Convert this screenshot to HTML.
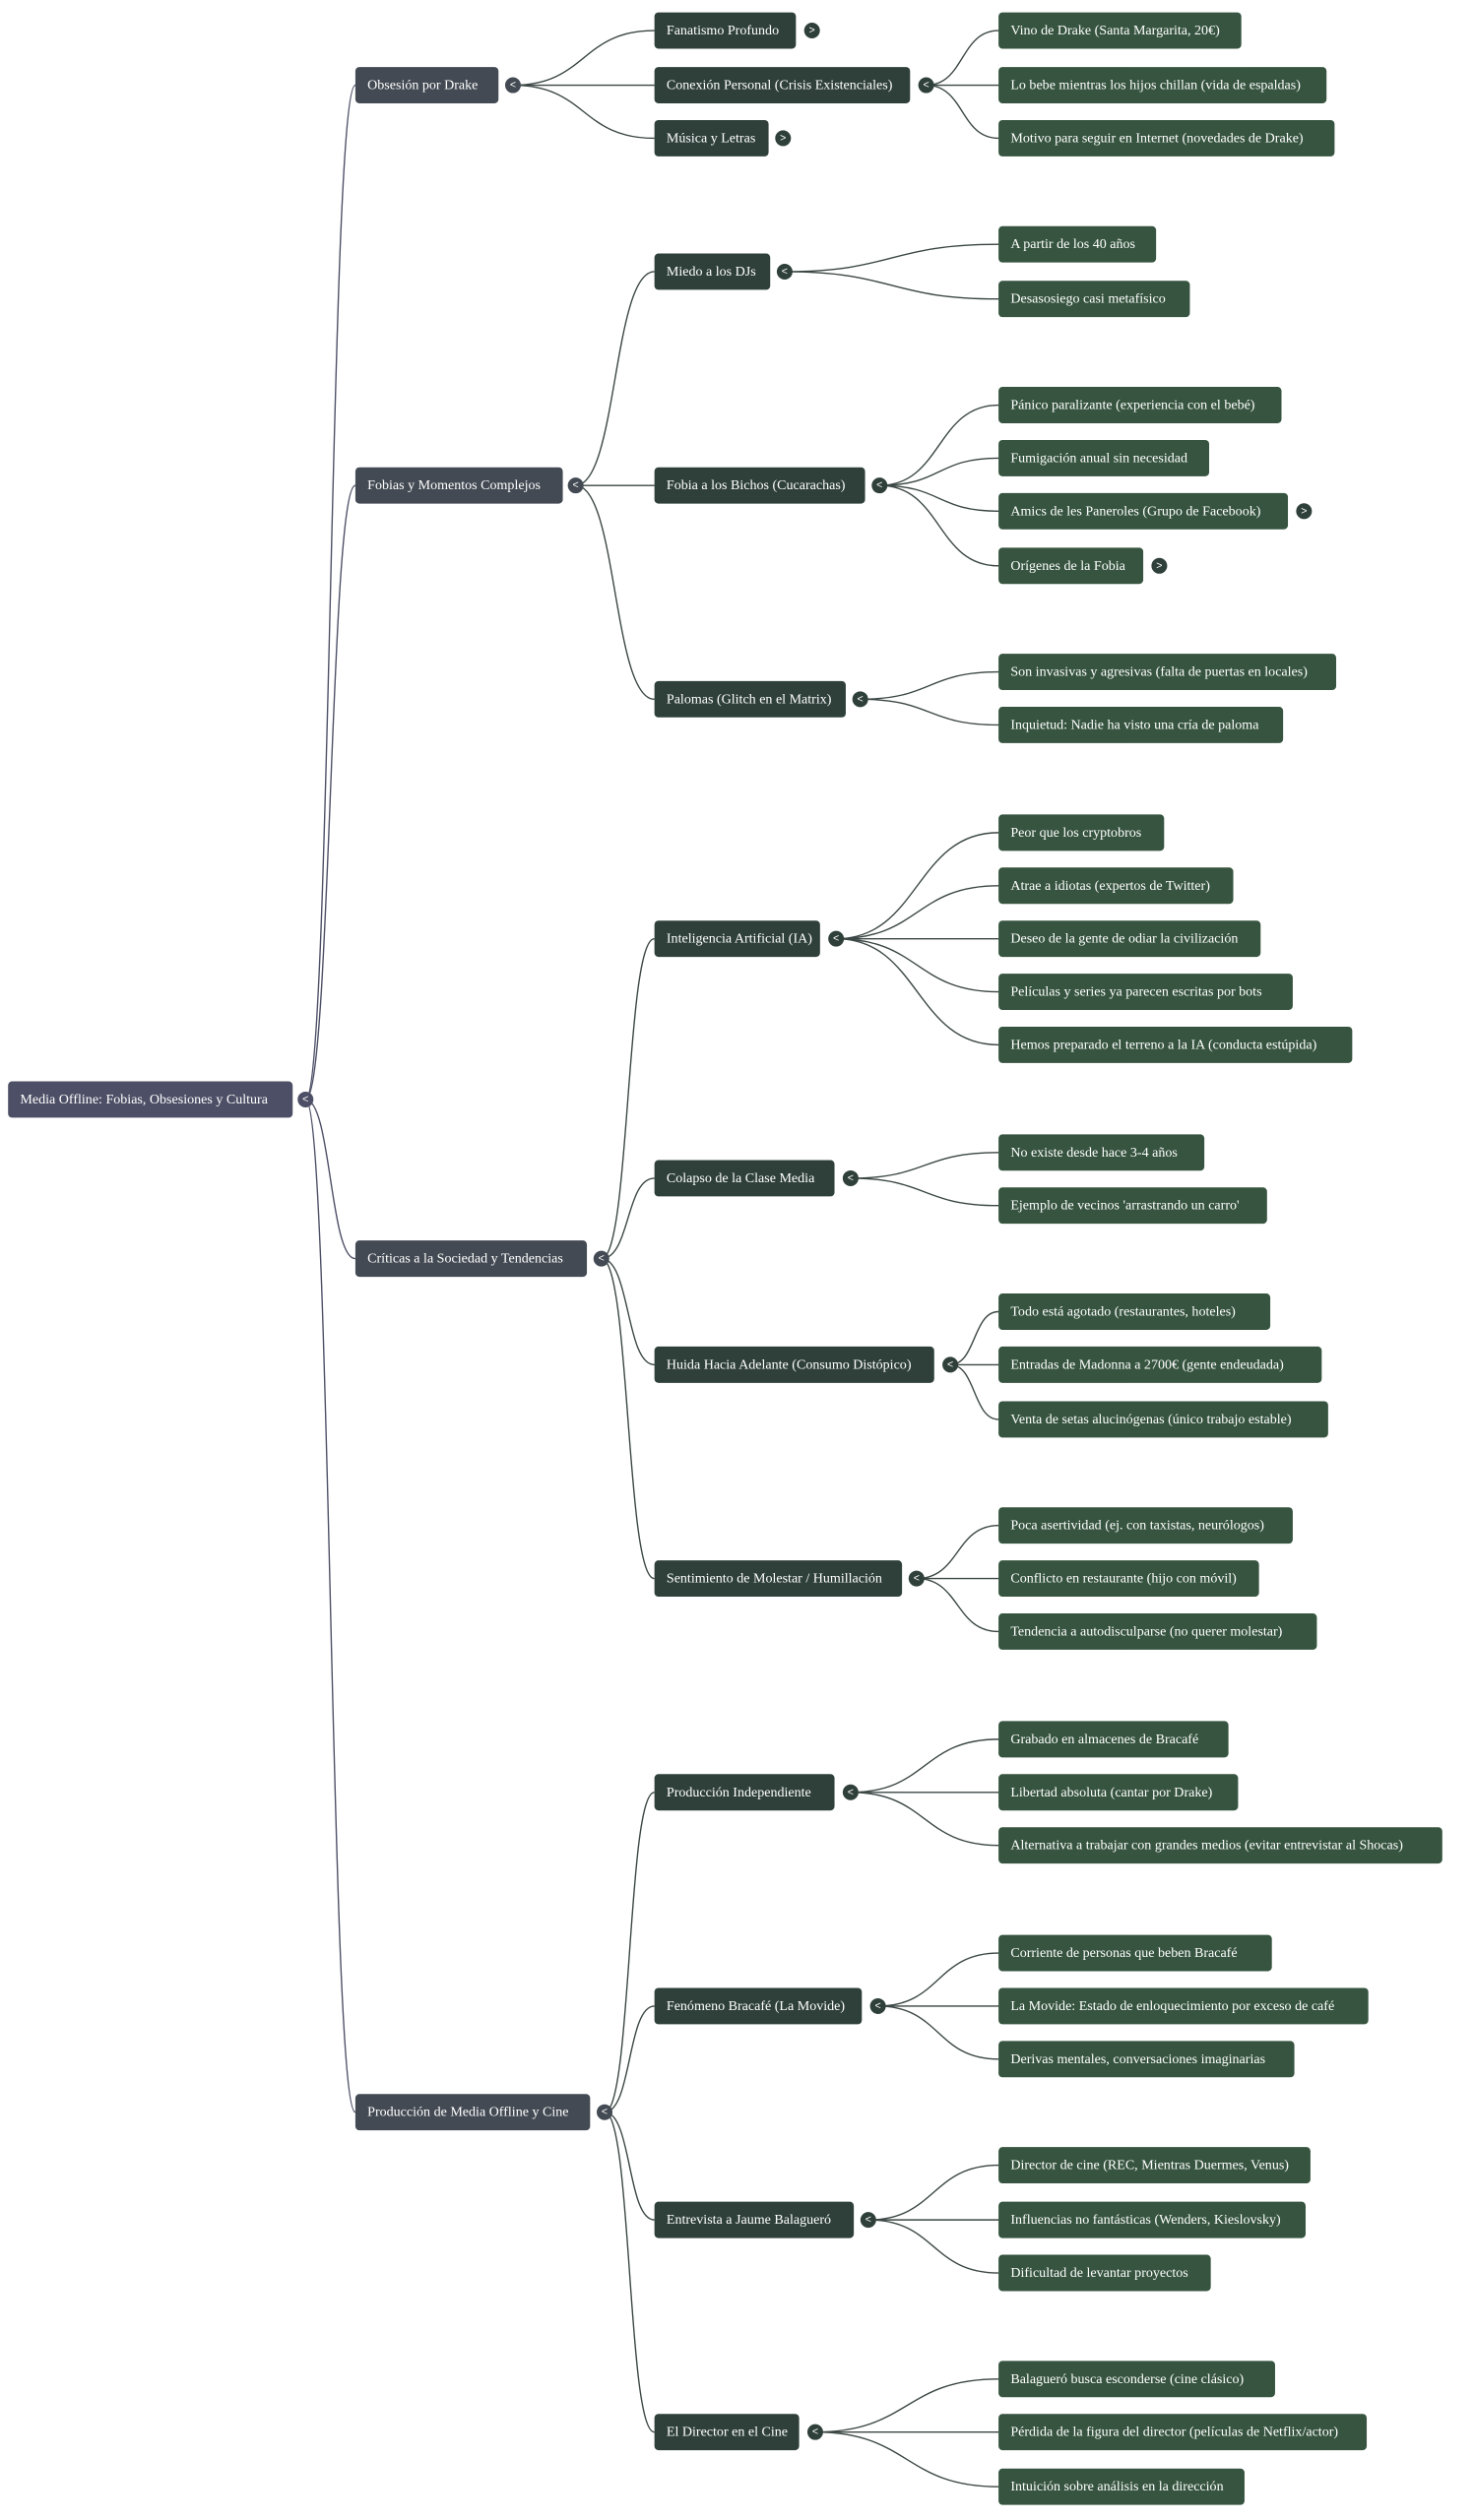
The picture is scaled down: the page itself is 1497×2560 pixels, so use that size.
<!DOCTYPE html>
<html><head><meta charset="utf-8"><style>
html,body{margin:0;padding:0;background:#fff;}
svg{display:block}
text{font-family:"Liberation Serif",serif;font-size:8.6px;fill:#fff;dominant-baseline:central}
.r{fill:#4d4f66}.a{fill:#434a53}.b{fill:#2f403b}.c{fill:#36543f}
.t text{font-size:6.5px;text-anchor:middle;font-family:"Liberation Sans",sans-serif}
path{fill:none;stroke:#3b4744;stroke-width:0.85}
path.p{stroke:#4d4f66}
</style></head><body>
<svg width="1497" height="2560" viewBox="0 0 916.7 1567.7" xmlns="http://www.w3.org/2000/svg">
<!-- connectors root -->
<path class="p" d="M190,684 C206,684 205,53 221,53"/>
<path class="p" d="M190,684 C206,684 205,302 221,302"/>
<path class="p" d="M190,684 C206,684 205,783 221,783"/>
<path class="p" d="M190,684 C206,684 205,1314 221,1314"/>
<!-- L1 -> L2 -->
<path d="M319,53 C365,53 361,19 407,19"/>
<path d="M319,53 C365,53 361,53 407,53"/>
<path d="M319,53 C365,53 361,86 407,86"/>
<path d="M358,302 C384,302 381,169 407,169"/>
<path d="M358,302 C384,302 381,302 407,302"/>
<path d="M358,302 C384,302 381,435 407,435"/>
<path d="M374,783 C392,783 389,584 407,584"/>
<path d="M374,783 C392,783 389,733 407,733"/>
<path d="M374,783 C392,783 389,849 407,849"/>
<path d="M374,783 C392,783 389,982 407,982"/>
<path d="M376,1314 C393,1314 390,1115 407,1115"/>
<path d="M376,1314 C393,1314 390,1248 407,1248"/>
<path d="M376,1314 C393,1314 390,1381 407,1381"/>
<path d="M376,1314 C393,1314 390,1513 407,1513"/>
<!-- L2 -> leaves -->
<path d="M576,53 C600,53 597,19 621,19"/>
<path d="M576,53 C600,53 597,53 621,53"/>
<path d="M576,53 C600,53 597,86 621,86"/>
<path d="M488,169 C556,169 553,152 621,152"/>
<path d="M488,169 C556,169 553,186 621,186"/>
<path d="M547,302 C586,302 582,252 621,252"/>
<path d="M547,302 C586,302 582,285 621,285"/>
<path d="M547,302 C586,302 582,318 621,318"/>
<path d="M547,302 C586,302 582,352 621,352"/>
<path d="M535,435 C580,435 576,418 621,418"/>
<path d="M535,435 C580,435 576,451 621,451"/>
<path d="M520,584 C572,584 569,518 621,518"/>
<path d="M520,584 C572,584 569,551 621,551"/>
<path d="M520,584 C572,584 569,584 621,584"/>
<path d="M520,584 C572,584 569,617 621,617"/>
<path d="M520,584 C572,584 569,650 621,650"/>
<path d="M529,733 C577,733 573,717 621,717"/>
<path d="M529,733 C577,733 573,750 621,750"/>
<path d="M591,849 C607,849 605,816 621,816"/>
<path d="M591,849 C607,849 605,849 621,849"/>
<path d="M591,849 C607,849 605,883 621,883"/>
<path d="M570,982 C597,982 594,949 621,949"/>
<path d="M570,982 C597,982 594,982 621,982"/>
<path d="M570,982 C597,982 594,1015 621,1015"/>
<path d="M529,1115 C577,1115 573,1082 621,1082"/>
<path d="M529,1115 C577,1115 573,1115 621,1115"/>
<path d="M529,1115 C577,1115 573,1148 621,1148"/>
<path d="M546,1248 C585,1248 582,1215 621,1215"/>
<path d="M546,1248 C585,1248 582,1248 621,1248"/>
<path d="M546,1248 C585,1248 582,1281 621,1281"/>
<path d="M540,1381 C582,1381 579,1347 621,1347"/>
<path d="M540,1381 C582,1381 579,1381 621,1381"/>
<path d="M540,1381 C582,1381 579,1414 621,1414"/>
<path d="M507,1513 C566,1513 562,1480 621,1480"/>
<path d="M507,1513 C566,1513 562,1513 621,1513"/>
<path d="M507,1513 C566,1513 562,1547 621,1547"/>

<!-- root -->
<rect class="r" x="5" y="672.7" width="177" height="22.6" rx="2.5"/><text x="12.5" y="684">Media Offline: Fobias, Obsesiones y Cultura</text>
<!-- L1 -->
<rect class="a" x="221" y="41.7" width="89" height="22.6" rx="2.5"/><text x="228.5" y="53">Obsesión por Drake</text>
<rect class="a" x="221" y="290.7" width="129" height="22.6" rx="2.5"/><text x="228.5" y="302">Fobias y Momentos Complejos</text>
<rect class="a" x="221" y="771.7" width="144" height="22.6" rx="2.5"/><text x="228.5" y="783">Críticas a la Sociedad y Tendencias</text>
<rect class="a" x="221" y="1302.7" width="146" height="22.6" rx="2.5"/><text x="228.5" y="1314">Producción de Media Offline y Cine</text>
<!-- L2 -->
<rect class="b" x="407" y="7.7" width="88" height="22.6" rx="2.5"/><text x="414.5" y="19">Fanatismo Profundo</text>
<rect class="b" x="407" y="41.7" width="159" height="22.6" rx="2.5"/><text x="414.5" y="53">Conexión Personal (Crisis Existenciales)</text>
<rect class="b" x="407" y="74.7" width="71" height="22.6" rx="2.5"/><text x="414.5" y="86">Música y Letras</text>
<rect class="b" x="407" y="157.7" width="72" height="22.6" rx="2.5"/><text x="414.5" y="169">Miedo a los DJs</text>
<rect class="b" x="407" y="290.7" width="131" height="22.6" rx="2.5"/><text x="414.5" y="302">Fobia a los Bichos (Cucarachas)</text>
<rect class="b" x="407" y="423.7" width="119" height="22.6" rx="2.5"/><text x="414.5" y="435">Palomas (Glitch en el Matrix)</text>
<rect class="b" x="407" y="572.7" width="103" height="22.6" rx="2.5"/><text x="414.5" y="584">Inteligencia Artificial (IA)</text>
<rect class="b" x="407" y="721.7" width="112" height="22.6" rx="2.5"/><text x="414.5" y="733">Colapso de la Clase Media</text>
<rect class="b" x="407" y="837.7" width="174" height="22.6" rx="2.5"/><text x="414.5" y="849">Huida Hacia Adelante (Consumo Distópico)</text>
<rect class="b" x="407" y="970.7" width="154" height="22.6" rx="2.5"/><text x="414.5" y="982">Sentimiento de Molestar / Humillación</text>
<rect class="b" x="407" y="1103.7" width="112" height="22.6" rx="2.5"/><text x="414.5" y="1115">Producción Independiente</text>
<rect class="b" x="407" y="1236.7" width="129" height="22.6" rx="2.5"/><text x="414.5" y="1248">Fenómeno Bracafé (La Movide)</text>
<rect class="b" x="407" y="1369.7" width="124" height="22.6" rx="2.5"/><text x="414.5" y="1381">Entrevista a Jaume Balagueró</text>
<rect class="b" x="407" y="1501.7" width="90" height="22.6" rx="2.5"/><text x="414.5" y="1513">El Director en el Cine</text>
<!-- leaves -->
<rect class="c" x="621" y="7.7" width="151" height="22.6" rx="2.5"/><text x="628.5" y="19">Vino de Drake (Santa Margarita, 20€)</text>
<rect class="c" x="621" y="41.7" width="204" height="22.6" rx="2.5"/><text x="628.5" y="53">Lo bebe mientras los hijos chillan (vida de espaldas)</text>
<rect class="c" x="621" y="74.7" width="209" height="22.6" rx="2.5"/><text x="628.5" y="86">Motivo para seguir en Internet (novedades de Drake)</text>
<rect class="c" x="621" y="140.7" width="98" height="22.6" rx="2.5"/><text x="628.5" y="152">A partir de los 40 años</text>
<rect class="c" x="621" y="174.7" width="119" height="22.6" rx="2.5"/><text x="628.5" y="186">Desasosiego casi metafísico</text>
<rect class="c" x="621" y="240.7" width="176" height="22.6" rx="2.5"/><text x="628.5" y="252">Pánico paralizante (experiencia con el bebé)</text>
<rect class="c" x="621" y="273.7" width="131" height="22.6" rx="2.5"/><text x="628.5" y="285">Fumigación anual sin necesidad</text>
<rect class="c" x="621" y="306.7" width="180" height="22.6" rx="2.5"/><text x="628.5" y="318">Amics de les Paneroles (Grupo de Facebook)</text>
<rect class="c" x="621" y="340.7" width="90" height="22.6" rx="2.5"/><text x="628.5" y="352">Orígenes de la Fobia</text>
<rect class="c" x="621" y="406.7" width="210" height="22.6" rx="2.5"/><text x="628.5" y="418">Son invasivas y agresivas (falta de puertas en locales)</text>
<rect class="c" x="621" y="439.7" width="177" height="22.6" rx="2.5"/><text x="628.5" y="451">Inquietud: Nadie ha visto una cría de paloma</text>
<rect class="c" x="621" y="506.7" width="103" height="22.6" rx="2.5"/><text x="628.5" y="518">Peor que los cryptobros</text>
<rect class="c" x="621" y="539.7" width="146" height="22.6" rx="2.5"/><text x="628.5" y="551">Atrae a idiotas (expertos de Twitter)</text>
<rect class="c" x="621" y="572.7" width="163" height="22.6" rx="2.5"/><text x="628.5" y="584">Deseo de la gente de odiar la civilización</text>
<rect class="c" x="621" y="605.7" width="183" height="22.6" rx="2.5"/><text x="628.5" y="617">Películas y series ya parecen escritas por bots</text>
<rect class="c" x="621" y="638.7" width="220" height="22.6" rx="2.5"/><text x="628.5" y="650">Hemos preparado el terreno a la IA (conducta estúpida)</text>
<rect class="c" x="621" y="705.7" width="128" height="22.6" rx="2.5"/><text x="628.5" y="717">No existe desde hace 3-4 años</text>
<rect class="c" x="621" y="738.7" width="167" height="22.6" rx="2.5"/><text x="628.5" y="750">Ejemplo de vecinos 'arrastrando un carro'</text>
<rect class="c" x="621" y="804.7" width="169" height="22.6" rx="2.5"/><text x="628.5" y="816">Todo está agotado (restaurantes, hoteles)</text>
<rect class="c" x="621" y="837.7" width="201" height="22.6" rx="2.5"/><text x="628.5" y="849">Entradas de Madonna a 2700€ (gente endeudada)</text>
<rect class="c" x="621" y="871.7" width="205" height="22.6" rx="2.5"/><text x="628.5" y="883">Venta de setas alucinógenas (único trabajo estable)</text>
<rect class="c" x="621" y="937.7" width="183" height="22.6" rx="2.5"/><text x="628.5" y="949">Poca asertividad (ej. con taxistas, neurólogos)</text>
<rect class="c" x="621" y="970.7" width="162" height="22.6" rx="2.5"/><text x="628.5" y="982">Conflicto en restaurante (hijo con móvil)</text>
<rect class="c" x="621" y="1003.7" width="198" height="22.6" rx="2.5"/><text x="628.5" y="1015">Tendencia a autodisculparse (no querer molestar)</text>
<rect class="c" x="621" y="1070.7" width="143" height="22.6" rx="2.5"/><text x="628.5" y="1082">Grabado en almacenes de Bracafé</text>
<rect class="c" x="621" y="1103.7" width="149" height="22.6" rx="2.5"/><text x="628.5" y="1115">Libertad absoluta (cantar por Drake)</text>
<rect class="c" x="621" y="1136.7" width="276" height="22.6" rx="2.5"/><text x="628.5" y="1148">Alternativa a trabajar con grandes medios (evitar entrevistar al Shocas)</text>
<rect class="c" x="621" y="1203.7" width="170" height="22.6" rx="2.5"/><text x="628.5" y="1215">Corriente de personas que beben Bracafé</text>
<rect class="c" x="621" y="1236.7" width="230" height="22.6" rx="2.5"/><text x="628.5" y="1248">La Movide: Estado de enloquecimiento por exceso de café</text>
<rect class="c" x="621" y="1269.7" width="184" height="22.6" rx="2.5"/><text x="628.5" y="1281">Derivas mentales, conversaciones imaginarias</text>
<rect class="c" x="621" y="1335.7" width="194" height="22.6" rx="2.5"/><text x="628.5" y="1347">Director de cine (REC, Mientras Duermes, Venus)</text>
<rect class="c" x="621" y="1369.7" width="191" height="22.6" rx="2.5"/><text x="628.5" y="1381">Influencias no fantásticas (Wenders, Kieslovsky)</text>
<rect class="c" x="621" y="1402.7" width="132" height="22.6" rx="2.5"/><text x="628.5" y="1414">Dificultad de levantar proyectos</text>
<rect class="c" x="621" y="1468.7" width="172" height="22.6" rx="2.5"/><text x="628.5" y="1480">Balagueró busca esconderse (cine clásico)</text>
<rect class="c" x="621" y="1501.7" width="229" height="22.6" rx="2.5"/><text x="628.5" y="1513">Pérdida de la figura del director (películas de Netflix/actor)</text>
<rect class="c" x="621" y="1535.7" width="153" height="22.6" rx="2.5"/><text x="628.5" y="1547">Intuición sobre análisis en la dirección</text>

<!-- toggles -->
<g class="t">
<circle class="r" cx="190" cy="684" r="4.9"/><text x="190" y="684">&lt;</text>
<circle class="a" cx="319" cy="53" r="4.9"/><text x="319" y="53">&lt;</text>
<circle class="a" cx="358" cy="302" r="4.9"/><text x="358" y="302">&lt;</text>
<circle class="a" cx="374" cy="783" r="4.9"/><text x="374" y="783">&lt;</text>
<circle class="a" cx="376" cy="1314" r="4.9"/><text x="376" y="1314">&lt;</text>
<circle class="b" cx="505" cy="19" r="4.9"/><text x="505" y="19">&gt;</text>
<circle class="b" cx="576" cy="53" r="4.9"/><text x="576" y="53">&lt;</text>
<circle class="b" cx="487" cy="86" r="4.9"/><text x="487" y="86">&gt;</text>
<circle class="b" cx="488" cy="169" r="4.9"/><text x="488" y="169">&lt;</text>
<circle class="b" cx="547" cy="302" r="4.9"/><text x="547" y="302">&lt;</text>
<circle class="b" cx="535" cy="435" r="4.9"/><text x="535" y="435">&lt;</text>
<circle class="b" cx="520" cy="584" r="4.9"/><text x="520" y="584">&lt;</text>
<circle class="b" cx="529" cy="733" r="4.9"/><text x="529" y="733">&lt;</text>
<circle class="b" cx="591" cy="849" r="4.9"/><text x="591" y="849">&lt;</text>
<circle class="b" cx="570" cy="982" r="4.9"/><text x="570" y="982">&lt;</text>
<circle class="b" cx="529" cy="1115" r="4.9"/><text x="529" y="1115">&lt;</text>
<circle class="b" cx="546" cy="1248" r="4.9"/><text x="546" y="1248">&lt;</text>
<circle class="b" cx="540" cy="1381" r="4.9"/><text x="540" y="1381">&lt;</text>
<circle class="b" cx="507" cy="1513" r="4.9"/><text x="507" y="1513">&lt;</text>
<circle class="b" cx="811" cy="318" r="4.9"/><text x="811" y="318">&gt;</text>
<circle class="b" cx="721" cy="352" r="4.9"/><text x="721" y="352">&gt;</text>
</g>
</svg>
</body></html>
